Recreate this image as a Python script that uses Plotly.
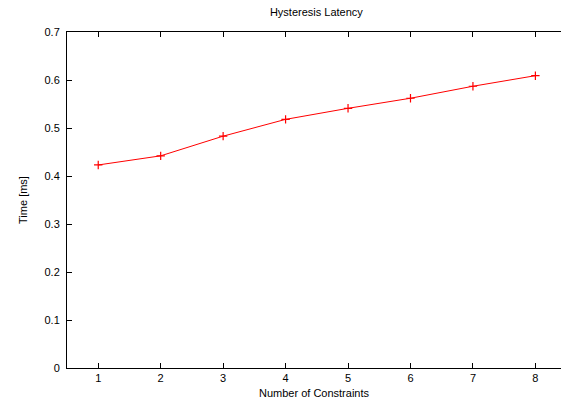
import plotly.graph_objects as go

constraints = [1, 2, 3, 4, 5, 6, 7, 8]
latency_ms = [0.423, 0.442, 0.483, 0.518, 0.541, 0.562, 0.587, 0.609]
y_ticks = [0, 0.1, 0.2, 0.3, 0.4, 0.5, 0.6, 0.7]
y_tick_labels = ["0", "0.1", "0.2", "0.3", "0.4", "0.5", "0.6", "0.7"]

FONT = "Liberation Sans, Arial, sans-serif"

fig = go.Figure()
fig.add_trace(go.Scatter(
    x=constraints, y=latency_ms, mode="lines+markers",
    line=dict(color="#ff0000", width=1),
    marker=dict(symbol="cross-thin", size=6, line=dict(color="#ff0000", width=1.2), color="#ff0000"),
    showlegend=False,
))

fig.update_layout(
    width=561, height=405,
    margin=dict(l=67, r=0, t=32, b=37),
    paper_bgcolor="white", plot_bgcolor="white",
    font=dict(family=FONT, size=11, color="black"),
    title=dict(text="Hysteresis Latency", x=0.564, xref="container", xanchor="center",
               y=1 - 12/405, yref="container", yanchor="middle",
               font=dict(family=FONT, size=11, color="black")),
    xaxis=dict(
        range=[0.5, 8.41], tickvals=constraints, ticks="inside", ticklen=5, tickwidth=1,
        tickcolor="black", showline=True, linecolor="black", linewidth=1, mirror="ticks",
        showgrid=False, zeroline=False, tickfont=dict(family=FONT, size=11),
        title=dict(text="Number of Constraints", standoff=6, font=dict(family=FONT, size=11)),
        automargin=False,
    ),
    yaxis=dict(
        range=[0, 0.7], tickvals=y_ticks, ticktext=y_tick_labels, ticks="inside", ticklen=5,
        tickwidth=1, tickcolor="black", showline=True, linecolor="black", linewidth=1,
        showgrid=False, zeroline=False, tickfont=dict(family=FONT, size=11),
        ticklabelstandoff=4,
        title=dict(text="Time [ms]", standoff=14, font=dict(family=FONT, size=11)),
        automargin=False,
    ),
)

fig.write_html("out.html")
